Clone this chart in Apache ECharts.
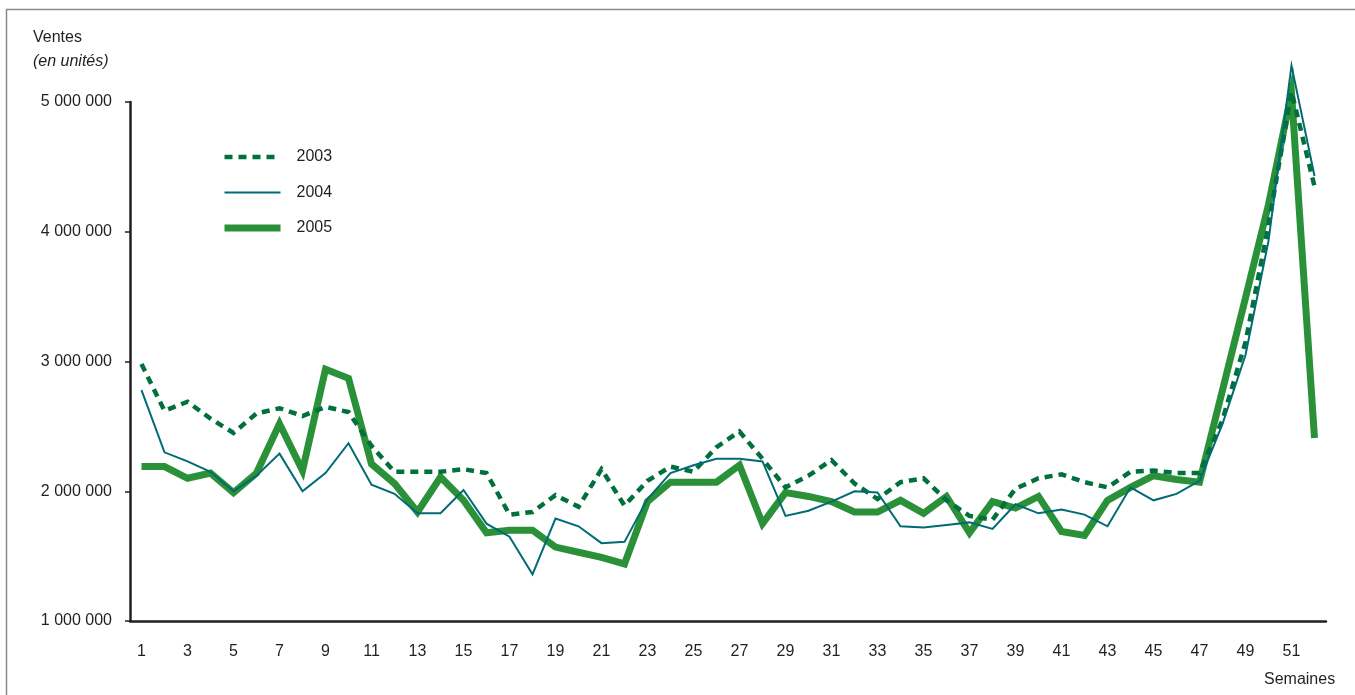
<!DOCTYPE html>
<html>
<head>
<meta charset="utf-8">
<script src="https://cdn.jsdelivr.net/npm/echarts@6/dist/echarts.min.js"></script>
<style>
  html, body { margin: 0; padding: 0; background: #fff; }
  #chart { width: 1355px; height: 695px; }
</style>
</head>
<body>
<div id="chart"></div>
<script>
// semaines 1..52
const weeks = Array.from({ length: 52 }, (_, i) => String(i + 1));

// ventes hebdomadaires (en unités)
const sales2003 = [
  2980000, 2620000, 2690000, 2560000, 2450000, 2600000, 2640000, 2580000, 2650000, 2610000,
  2350000, 2150000, 2150000, 2150000, 2170000, 2140000, 1820000, 1840000, 1970000, 1880000,
  2170000, 1890000, 2080000, 2190000, 2150000, 2340000, 2460000, 2250000, 2030000, 2120000,
  2240000, 2060000, 1940000, 2070000, 2100000, 1930000, 1810000, 1780000, 2020000, 2100000,
  2130000, 2070000, 2030000, 2150000, 2160000, 2140000, 2140000, 2550000, 3150000, 4050000,
  5080000, 4350000
];
const sales2004 = [
  2780000, 2300000, 2230000, 2150000, 2000000, 2120000, 2290000, 2000000, 2140000, 2370000,
  2050000, 1980000, 1830000, 1830000, 2010000, 1750000, 1650000, 1360000, 1790000, 1730000,
  1600000, 1610000, 1940000, 2140000, 2200000, 2250000, 2250000, 2230000, 1810000, 1850000,
  1920000, 2000000, 1990000, 1730000, 1720000, 1740000, 1760000, 1710000, 1900000, 1830000,
  1860000, 1820000, 1730000, 2030000, 1930000, 1980000, 2080000, 2520000, 3050000, 3930000,
  5280000, 4430000
];
const sales2005 = [
  2190000, 2190000, 2100000, 2140000, 1990000, 2140000, 2520000, 2160000, 2940000, 2870000,
  2210000, 2060000, 1840000, 2110000, 1930000, 1680000, 1700000, 1700000, 1570000, 1530000,
  1490000, 1440000, 1920000, 2070000, 2070000, 2070000, 2200000, 1750000, 1990000, 1960000,
  1920000, 1840000, 1840000, 1930000, 1830000, 1960000, 1680000, 1920000, 1870000, 1960000,
  1690000, 1660000, 1930000, 2030000, 2120000, 2090000, 2070000, 2780000, 3490000, 4210000,
  5070000, 2410000
];
const yTicks = [1000000, 2000000, 3000000, 4000000, 5000000];

const FONT = '"Liberation Sans", Arial, sans-serif';
const TXT = '#231f20';
const C2003 = '#00703c';
const C2004 = '#006b74';
const C2005 = '#2a9138';

const fmt = (v) => String(v).replace(/\B(?=(\d{3})+(?!\d))/g, ' ');

const chart = echarts.init(document.getElementById('chart'));

const option = {
  animation: false,
  textStyle: { fontFamily: FONT, color: TXT },
  grid: { left: 130, right: 29, top: 102, bottom: 74 },
  legend: {
    orient: 'vertical',
    left: 216,
    top: 144,
    itemWidth: 56,
    itemHeight: 16,
    itemGap: 19.5,
    itemStyle: { opacity: 0, borderWidth: 0 },
    textStyle: { fontFamily: FONT, fontSize: 16, color: TXT, padding: [0, 0, 0, 11] },
    data: [
      { name: '2003', lineStyle: { width: 4.5, type: [8, 6], color: C2003 } },
      { name: '2004', lineStyle: { width: 2, color: C2004 } },
      { name: '2005', lineStyle: { width: 7, color: C2005 } }
    ]
  },
  xAxis: {
    type: 'category',
    data: weeks,
    boundaryGap: true,
    axisLine: { lineStyle: { color: TXT, width: 2.5 } },
    axisTick: { interval: 0, length: 7, lineStyle: { color: TXT, width: 1.5 } },
    axisLabel: { interval: 1, margin: 23, fontSize: 16, color: TXT, fontFamily: FONT },
    splitLine: { show: false }
  },
  yAxis: {
    type: 'value',
    min: yTicks[0],
    max: yTicks[yTicks.length - 1],
    interval: 1000000,
    axisLine: { show: true, lineStyle: { color: TXT, width: 2.5 } },
    axisTick: { show: true, length: 5, lineStyle: { color: TXT, width: 1.5 } },
    axisLabel: { margin: 18, fontSize: 16, color: TXT, fontFamily: FONT, formatter: fmt },
    splitLine: { show: false }
  },
  series: [
    {
      name: '2003',
      type: 'line',
      data: sales2003,
      symbol: 'none',
      clip: false,
      z: 3,
      lineStyle: { color: C2003, width: 4.5, type: [8, 6], join: 'miter' },
      itemStyle: { color: C2003 }
    },
    {
      name: '2004',
      type: 'line',
      data: sales2004,
      symbol: 'none',
      clip: false,
      z: 4,
      lineStyle: { color: C2004, width: 2, join: 'miter' },
      itemStyle: { color: C2004 }
    },
    {
      name: '2005',
      type: 'line',
      data: sales2005,
      symbol: 'none',
      clip: false,
      z: 2,
      lineStyle: { color: C2005, width: 7, join: 'miter' },
      itemStyle: { color: C2005 }
    }
  ],
  graphic: [
    {
      type: 'rect',
      shape: { x: 6.5, y: 9.5, width: 1360, height: 700 },
      style: { fill: 'none', stroke: '#8a8a8a', lineWidth: 1.5 },
      silent: true
    },
    {
      type: 'text',
      left: 33,
      top: 30,
      style: { text: 'Ventes', fontFamily: FONT, fontSize: 16, fill: TXT }
    },
    {
      type: 'text',
      left: 33,
      top: 54,
      style: { text: '(en unités)', fontFamily: FONT, fontSize: 16, fontStyle: 'italic', fill: TXT }
    },
    {
      type: 'text',
      left: 1264,
      top: 672,
      style: { text: 'Semaines', fontFamily: FONT, fontSize: 16, fill: TXT }
    }
  ]
};

chart.setOption(option);
</script>
</body>
</html>
